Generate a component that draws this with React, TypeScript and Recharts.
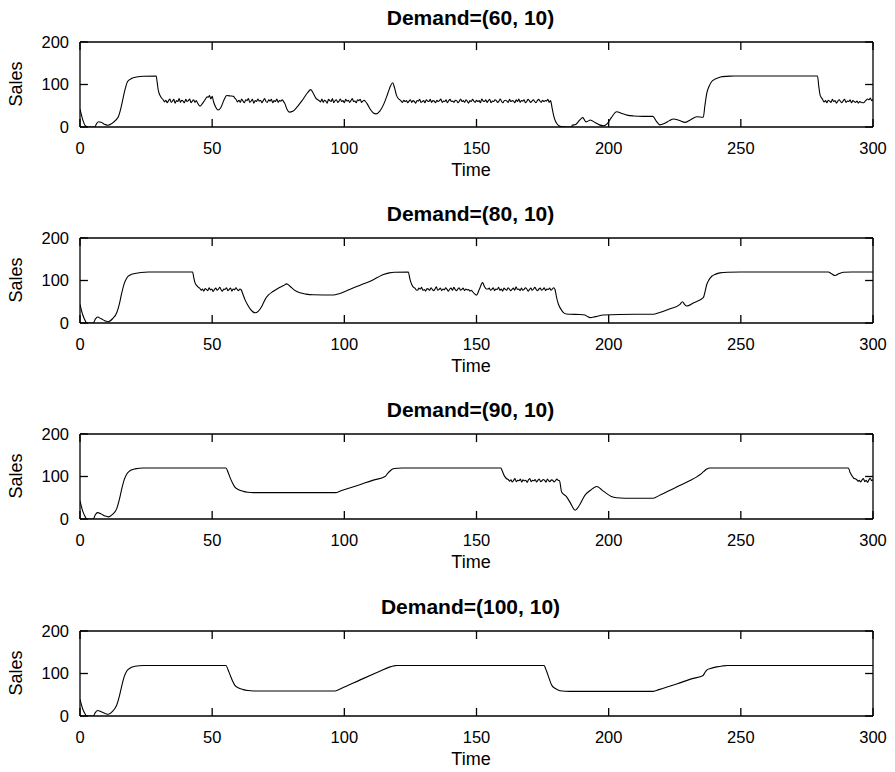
import { LineChart, Line, XAxis, YAxis, ReferenceLine } from 'recharts';

type Pt = [number, number];
type Noise = { from: number; to: number; values: number[] };

const timeTicks = [0, 50, 100, 150, 200, 250, 300];
const salesTicks = [0, 100, 200];
const panelTitles = ['Demand=(60, 10)', 'Demand=(80, 10)', 'Demand=(90, 10)', 'Demand=(100, 10)'];

// smooth parts of each run, [time, sales]
const curve60: Pt[] = [
  [0, 42], [1, 18], [2, 3], [3, 0], [5.5, 0], [6.3, 8], [7, 12.5], [8, 11], [9.5, 6], [10.6, 4], [12, 8],
  [13.5, 16], [14.5, 24], [15.5, 45], [16.4, 71], [17.2, 92], [18, 107], [19.5, 114], [21.4, 117.5],
  [24, 119.5], [28.8, 120], [29.2, 105], [29.6, 87], [30.3, 74], [31, 67],
  [44.5, 56], [45.4, 49], [46.3, 55], [47.5, 66], [48.1, 71],
  [50.5, 60], [51.3, 47], [52.3, 40], [53.3, 46], [54.5, 64], [55.5, 74], [57, 73], [58.1, 72],
  [77.5, 55], [78.3, 42], [79.2, 35], [80.5, 37], [82, 46], [84, 62], [86, 80], [87.3, 88], [88.2, 80],
  [89.2, 68], [90, 64],
  [108.6, 55], [110, 40], [111, 33], [112, 31], [113.5, 38], [115, 55], [116.5, 80], [117.5, 97],
  [118.3, 104], [119, 92], [119.7, 75], [120.4, 67],
  [178.6, 45], [179, 32], [179.6, 18], [180.3, 9], [181.2, 3], [182.2, 1], [184, 0], [186, 0], [186.2, 4],
  [187.5, 6], [189, 16], [190.2, 22], [191.4, 12], [192.5, 15], [193, 16.5], [195, 10], [196.5, 5],
  [198, 3], [199.5, 8], [201, 22], [203, 36], [205, 32], [207, 28], [209.4, 26], [213, 25], [216.7, 25],
  [218, 14], [219.4, 5], [221, 8], [223, 15], [224.5, 19], [226.5, 16], [229, 11], [231, 17], [233.3, 24],
  [235.8, 23], [236.4, 50], [237.1, 79], [238, 96], [239, 107], [240, 112], [241.5, 116], [243, 118.5],
  [246, 119.8], [250, 120], [279, 120], [279.5, 95], [280, 75], [280.6, 68],
  [296.4, 57], [297.2, 62], [298, 66],
];

const noise60: Noise[] = [
  { from: 31.5, to: 44, values: [64, 59, 63, 57, 62, 66, 58, 61, 65, 56, 62, 60, 67, 58, 63, 61, 57, 65, 60, 62, 66, 57, 61, 64, 58, 62] },
  { from: 48.5, to: 50, values: [70, 74, 66, 72] },
  { from: 58.6, to: 77, values: [68, 64, 59, 63, 58, 66, 61, 57, 64, 62, 67, 58, 61, 65, 56, 62, 60, 66, 61, 63, 57, 62, 67, 60, 58, 64, 61, 65, 57, 62, 60, 66, 58, 62, 61, 64, 60] },
  { from: 90.5, to: 108, values: [62, 59, 66, 58, 63, 61, 56, 65, 62, 60, 67, 57, 62, 64, 58, 61, 66, 60, 62, 57, 65, 61, 63, 58, 62, 67, 60, 61, 57, 64, 62, 65, 58, 61, 63, 60] },
  { from: 121, to: 178, values: [64, 61, 58, 63, 60, 62, 57, 61, 64, 58, 62, 60, 56, 62, 61, 65, 58, 60, 62, 57, 64, 61, 60, 65, 58, 62, 61, 57, 63, 60, 62, 66, 58, 61, 60, 64, 57, 62, 65, 60, 61, 58, 63, 62, 57, 61, 66, 60, 62, 58, 64, 61, 56, 62, 60, 65, 61, 58, 63, 60, 62, 57, 66, 61, 60, 64, 58, 62, 65, 57, 61, 60, 64, 62, 58, 61, 66, 60, 57, 62, 63, 61, 58, 65, 60, 62, 61, 57, 64, 60, 66, 58, 62, 61, 64, 57, 60, 65, 62, 58, 61, 64, 60, 57, 62, 65, 61, 58, 63, 60, 62, 61, 65, 58, 62] },
  { from: 281, to: 296, values: [64, 59, 62, 57, 63, 61, 58, 65, 60, 62, 56, 61, 64, 60, 57, 62, 65, 58, 61, 60, 64, 57, 62, 60, 58, 61, 56, 60, 58, 57] },
  { from: 298.5, to: 300, values: [64, 68, 62, 65] },
];

const curve80: Pt[] = [
  [0, 44], [1, 20], [2, 5], [2.5, 0], [5, 0], [5.8, 9], [6.6, 14], [8, 10], [9.5, 5], [10.7, 3], [12.3, 10],
  [13.9, 24], [14.9, 45], [15.8, 71], [16.7, 92], [17.7, 106], [19, 113], [20.8, 116.5], [23, 119],
  [26, 120], [42.6, 120], [43, 108], [43.5, 95], [44.2, 88], [44.8, 84],
  [61.5, 70], [62.4, 55], [63.5, 42], [64.5, 32], [66.2, 24], [67.5, 28], [69, 42], [70, 55], [71.3, 66],
  [73, 74], [75, 82], [77, 88], [78.2, 92], [79.5, 86], [81, 78], [83.2, 71], [85.5, 68], [88.3, 66.5],
  [95.8, 66], [98, 69], [102, 79], [106, 89], [110, 99], [112.5, 107], [114.8, 114], [117, 118],
  [119, 119.5], [124.2, 120], [124.8, 104], [125.5, 90.6], [126.2, 84],
  [148.5, 74], [149.2, 69], [150, 65.6], [151, 78], [152.3, 95], [153, 86], [153.8, 80],
  [180.3, 60], [181, 44], [182, 32], [182.9, 24.4], [184, 21], [185.4, 20.5], [189, 20], [191, 19],
  [192, 15], [193, 12.6], [195, 15], [198, 19], [210, 20.5], [216.9, 20.5], [219, 24], [223, 33],
  [227, 44], [227.9, 50], [228.7, 44], [229.5, 40], [232, 47], [235.8, 59.5], [236.5, 75], [237.1, 90.6],
  [238, 102], [239, 110], [240.5, 115], [242.1, 118], [245, 119.5], [250, 120], [283.1, 120],
  [284.3, 116], [285.7, 111.7], [287, 116], [288.8, 119.5], [292, 120], [300, 120],
];

const noise80: Noise[] = [
  { from: 45.3, to: 61, values: [82, 77, 80, 75, 81, 79, 76, 83, 78, 80, 74, 79, 82, 77, 80, 84, 78, 75, 80, 79, 83, 76, 79, 82, 75, 80, 78, 83, 79, 76, 80, 78] },
  { from: 126.7, to: 148, values: [82, 78, 77, 82, 80, 84, 77, 79, 75, 81, 80, 77, 83, 79, 76, 80, 85, 77, 79, 82, 76, 80, 78, 83, 79, 75, 80, 82, 77, 84, 79, 76, 80, 83, 77, 79, 82, 76, 80, 78, 79, 75, 77] },
  { from: 154.3, to: 179.7, values: [80, 82, 77, 79, 83, 76, 80, 79, 84, 77, 80, 75, 82, 79, 77, 83, 80, 76, 79, 82, 77, 85, 79, 80, 76, 82, 77, 79, 83, 80, 75, 79, 82, 77, 80, 84, 79, 76, 80, 82, 77, 79, 83, 76, 80, 79, 82, 77, 80, 83, 79] },
];

const curve90: Pt[] = [
  [0, 42.5], [1, 19], [2, 5], [2.5, 0], [5, 0], [5.8, 10], [6.6, 15], [8, 12], [9.5, 7], [10.7, 5],
  [12.3, 11], [13.9, 24.5], [14.9, 46], [15.8, 71], [16.7, 92], [17.7, 106], [19, 114], [20.8, 118],
  [24, 120], [55.2, 120], [56, 110], [56.7, 98.6], [57.6, 86], [58.6, 75], [60, 69], [61.8, 65],
  [63.5, 63], [65.6, 62], [96.5, 62], [99, 67], [105, 79], [111, 91.5], [115.4, 100], [116.5, 108],
  [117.5, 114], [118.5, 118], [120, 119.5], [122, 120], [159.2, 120], [159.7, 114], [160.2, 106],
  [160.8, 99], [161.4, 94.6],
  [182.2, 63.5], [184.1, 52], [185.5, 38], [187.3, 20.6], [189, 33], [191, 55.6], [193, 67], [195.5, 76.6],
  [197.5, 68], [199.3, 59.6], [201, 53], [203, 50], [206, 49], [216.9, 49], [219, 55], [225, 73],
  [230.8, 90.7], [233, 98], [234.5, 104], [236, 112], [237, 117], [238.4, 120], [290.7, 120], [291.3, 110],
  [292, 102], [292.7, 96], [293.3, 94.6],
];

const noise90: Noise[] = [
  { from: 162, to: 181.4, values: [93, 89, 92, 87, 91, 95, 88, 91, 90, 94, 87, 92, 90, 91, 86, 92, 95, 88, 91, 90, 93, 87, 91, 94, 88, 90, 93, 91, 87, 94, 90, 88, 92, 91, 87, 90, 94, 91, 90] },
  { from: 293.8, to: 300, values: [93, 89, 91, 87, 92, 95, 88, 91, 86, 92, 96, 90, 93] },
];

const curve100: Pt[] = [
  [0, 39], [1, 17], [2, 4], [2.5, 0], [5, 0], [5.8, 8], [6.6, 13], [8, 10], [9.5, 6], [10.7, 4], [12.3, 11],
  [13.9, 26], [14.9, 47], [15.8, 71], [16.7, 92], [17.7, 106], [19, 113], [20.8, 117], [24, 119],
  [55.2, 119], [56, 109], [56.7, 98], [57.6, 84], [58.6, 72], [60, 66], [61.8, 62], [63.5, 60], [65.6, 59],
  [96.5, 59], [99, 65.5], [106, 85], [113, 104], [117.3, 115.6], [118.5, 117.5], [119.8, 119],
  [175.6, 119], [176.1, 112], [176.6, 104], [177.5, 88], [178.5, 72], [180, 64], [181.6, 59.5],
  [183.5, 58.2], [185.4, 58], [216.9, 58], [219, 62], [226, 76], [232, 88.5], [235.6, 94.6], [236.3, 101],
  [237.1, 108], [238.5, 112], [240.9, 115.6], [243, 117.8], [245, 119], [300, 119],
];

const noise100: Noise[] = [];

const buildRows = (curve: Pt[], noise: Noise[]) => {
  const rows = curve.map(([t, v]) => ({ t, v }));
  noise.forEach(({ from, to, values }) => {
    const step = (to - from) / (values.length - 1);
    values.forEach((v, i) => rows.push({ t: from + i * step, v }));
  });
  return rows.sort((a, b) => a.t - b.t);
};

const panels = [
  buildRows(curve60, noise60),
  buildRows(curve80, noise80),
  buildRows(curve90, noise90),
  buildRows(curve100, noise100),
];
const panelTops = [0, 196, 392, 589];

const font = '"Liberation Sans", Arial, sans-serif';
const tickStyle = { fontSize: 16.5, fill: '#000', fontFamily: font };
// inward tick length in data units (~8px)
const xTickLen = 19;
const yTickLen = 3;
const frame = { stroke: '#000', strokeWidth: 1.3 };

const Panel = ({ title, data, top }: { title: string; data: { t: number; v: number }[]; top: number }) => (
  <div style={{ position: 'absolute', left: 0, top, width: 895, height: 196 }}>
    <div
      style={{
        position: 'absolute', top: 6, left: 0, width: 941, textAlign: 'center',
        fontWeight: 'bold', fontSize: 21, lineHeight: '24px', fontFamily: font,
      }}
    >
      {title}
    </div>
    <div
      style={{
        position: 'absolute', top: 159, left: 0, width: 942, textAlign: 'center',
        fontSize: 18, lineHeight: '22px', fontFamily: font,
      }}
    >
      Time
    </div>
    <div style={{ position: 'absolute', left: 16, top: 84, width: 0, height: 0 }}>
      <div
        style={{
          position: 'absolute', left: -40, top: -11, width: 80, textAlign: 'center',
          fontSize: 18, lineHeight: '22px', fontFamily: font, transform: 'rotate(-90deg)',
        }}
      >
        Sales
      </div>
    </div>
    <LineChart width={895} height={196} data={data} margin={{ top: 41, right: 21, bottom: 39, left: 40 }}>
      <XAxis
        xAxisId='bottom'
        dataKey='t'
        type='number'
        domain={[0, 300]}
        ticks={timeTicks}
        interval={0}
        allowDataOverflow
        height={30}
        tickSize={0}
        tickMargin={15}
        tick={tickStyle}
        tickLine={false}
        axisLine={frame}
      />
      <XAxis
        xAxisId='top'
        orientation='top'
        dataKey='t'
        type='number'
        domain={[0, 300]}
        allowDataOverflow
        height={1}
        tick={false}
        tickLine={false}
        axisLine={frame}
      />
      <YAxis
        yAxisId='left'
        type='number'
        domain={[0, 200]}
        ticks={salesTicks}
        interval={0}
        allowDataOverflow
        width={40}
        tickSize={0}
        tickMargin={11}
        tick={tickStyle}
        tickLine={false}
        axisLine={frame}
      />
      <YAxis
        yAxisId='right'
        orientation='right'
        type='number'
        domain={[0, 200]}
        allowDataOverflow
        width={1}
        tick={false}
        tickLine={false}
        axisLine={frame}
      />
      {timeTicks.map((t) => (
        <ReferenceLine
          key={`b${t}`}
          xAxisId='bottom'
          yAxisId='left'
          segment={[{ x: t, y: 0 }, { x: t, y: xTickLen }]}
          {...frame}
        />
      ))}
      {timeTicks.map((t) => (
        <ReferenceLine
          key={`t${t}`}
          xAxisId='bottom'
          yAxisId='left'
          segment={[{ x: t, y: 200 }, { x: t, y: 200 - xTickLen }]}
          {...frame}
        />
      ))}
      {salesTicks.map((s) => (
        <ReferenceLine
          key={`l${s}`}
          xAxisId='bottom'
          yAxisId='left'
          segment={[{ x: 0, y: s }, { x: yTickLen, y: s }]}
          {...frame}
        />
      ))}
      {salesTicks.map((s) => (
        <ReferenceLine
          key={`r${s}`}
          xAxisId='bottom'
          yAxisId='left'
          segment={[{ x: 300, y: s }, { x: 300 - yTickLen, y: s }]}
          {...frame}
        />
      ))}
      <Line
        xAxisId='bottom'
        yAxisId='left'
        type='monotone'
        dataKey='v'
        stroke='#000'
        strokeWidth={1.1}
        dot={false}
        activeDot={false}
        isAnimationActive={false}
      />
    </LineChart>
  </div>
);

export default function App() {
  return (
    <div
      style={{
        position: 'absolute', left: 0, top: 0, width: 895, height: 772,
        overflow: 'hidden', background: '#fff',
      }}
    >
      {panels.map((rows, i) => (
        <Panel key={panelTitles[i]} title={panelTitles[i]} data={rows} top={panelTops[i]} />
      ))}
    </div>
  );
}
